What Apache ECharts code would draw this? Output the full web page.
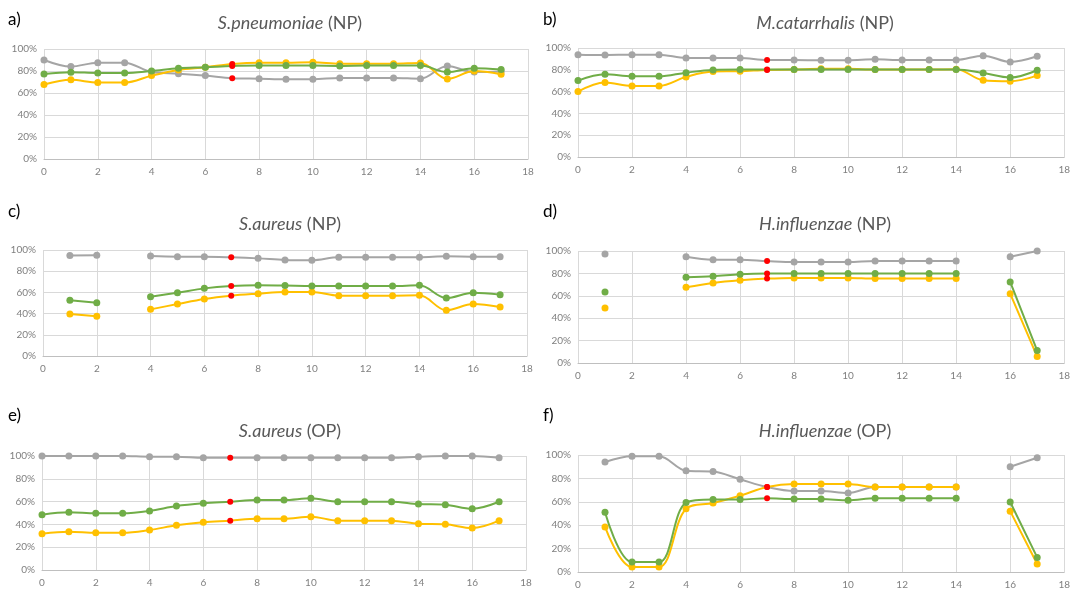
<!DOCTYPE html>
<html><head><meta charset="utf-8">
<script src="https://cdn.jsdelivr.net/npm/echarts@6/dist/echarts.min.js"></script>
<style>html,body{margin:0;padding:0;background:#fff}#c{width:1073px;height:594px}</style>
</head><body><div id="c"></div>
<script>
const xValues = [0,1,2,3,4,5,6,7,8,9,10,11,12,13,14,15,16,17];
const highlightIndex = 7;
const panelLetters = ['a)','b)','c)','d)','e)','f)'];
const speciesNames = ['S.pneumoniae','M.catarrhalis','S.aureus','H.influenzae','S.aureus','H.influenzae'];
const siteNames = ['(NP)','(NP)','(NP)','(NP)','(OP)','(OP)'];
const yTickValues = [0,20,40,60,80,100];

// a) S.pneumoniae (NP)
const aGray   = [90,84,87.6,87.6,79,77.6,75.8,73.4,73,72.5,72.5,73.7,73.7,73.7,73,84.6,79,79.5];
const aGreen  = [77.3,78.9,78.2,78.2,80,82.5,83.4,84.6,84.9,84.9,84.9,84.6,84.9,84.9,84.9,79,82.5,81.3];
const aYellow = [67.7,72,69.5,69.5,75.8,81,83.4,86.4,87.6,87.6,88,86.7,86.7,86.7,87.3,72.8,80,77];
// b) M.catarrhalis (NP)
const bGray   = [93.9,93.6,93.9,93.9,90.9,90.9,90.9,89,89,88.7,88.7,89.6,89,89,89,93,87.2,92.4];
const bGreen  = [70.1,75.9,74,74,77.4,79.9,80.2,80.2,80.2,80.2,80.2,80.2,80.2,80.2,80.2,77.1,72.9,79.6];
const bYellow = [60,68.3,65.2,65.2,73.5,78.4,78.7,79.9,80.2,81,81,80.2,80.2,80.2,80.5,70.4,69.5,74.7];
// c) S.aureus (NP)
const cGray   = [null,94.7,95,null,94.3,93.7,93.7,93.1,92.1,90.6,90.3,93.1,93.1,93.1,93.1,94,93.7,93.7];
const cGreen  = [null,52.5,50.3,null,56,59.7,63.8,66,66.7,66.4,66,66,66,66,66.7,54.7,59.7,57.9];
const cYellow = [null,39.6,37.4,null,44,49,53.8,56.9,58.8,60.4,60.4,56.9,56.9,56.9,57.2,43.1,49,46.2];
// d) H.influenzae (NP)
const dGray   = [null,97.3,null,null,94.9,92.2,92.2,91,90.1,90.1,90.1,91,91,91,91,null,94.9,100];
const dGreen  = [null,63.4,null,null,76.6,77.5,79.3,79.9,79.9,79.9,79.9,79.9,79.9,79.9,79.9,null,72.4,11.1];
const dYellow = [null,49,null,null,67.6,71.5,73.9,75.4,76,76,76,75.4,75.4,75.4,75.4,null,61.9,5.7];
// e) S.aureus (OP)
const eGray   = [100,100,100,100,99.4,99.4,98.5,98.5,98.5,98.5,98.5,98.5,98.5,98.5,99.4,100,100,98.5];
const eGreen  = [48.5,50.6,49.7,49.7,51.8,56.1,58.5,59.9,61.4,61.4,62.9,59.9,59.9,59.9,57.9,57.3,53.8,59.9];
const eYellow = [31.9,33.6,32.7,32.7,35.1,39.2,41.8,43.3,45,45,46.8,43.3,43.3,43.3,40.6,40.1,36.8,43.3];
// f) H.influenzae (OP)
const fGray   = [null,94,98.9,98.9,86.6,85.8,79.2,72.6,69.2,69.2,67.5,72.6,72.6,72.6,72.6,null,90,97.7];
const fGreen  = [null,51,8.5,8.5,59.3,62,62,63,62.4,62.4,61.3,63,63,63,63,null,59.8,12.5];
const fYellow = [null,38.5,4.3,4.3,54,59,65.2,72.6,75.2,75.2,75.2,72.6,72.6,72.6,72.6,null,52,6.8];

const panelData = [
  [aGray,aYellow,aGreen],[bGray,bYellow,bGreen],[cGray,cYellow,cGreen],
  [dGray,dYellow,dGreen],[eGray,eYellow,eGreen],[fGray,fYellow,fGreen]
];
const seriesColors = ['#A5A5A5','#FFC000','#70AD47'];

// layout
const grids = [
  {left:44, top:49, width:484, height:110},
  {left:578, top:48, width:493, height:109},
  {left:43, top:250, width:484, height:106},
  {left:578, top:251, width:492, height:112},
  {left:42, top:456, width:484, height:114},
  {left:578, top:455, width:490, height:117}
];
const letterPos = [[3,6],[538,6],[3,198],[538,198],[3,402],[538,402]];
const titlePos = [[285,9],[820,9],[285,210],[820,210],[285,417],[820,417]];

const FONT = 'Lato, "Liberation Sans", sans-serif';
const option = {
  animation:false,
  backgroundColor:'#fff',
  textStyle:{fontFamily:FONT},
  title:[],
  grid:grids,
  xAxis:[], yAxis:[], series:[]
};
for (let i=0;i<6;i++){
  option.title.push({
    text: panelLetters[i], left: letterPos[i][0], top: letterPos[i][1],
    textStyle:{fontSize:17, fontWeight:'normal', color:'#000', fontFamily:FONT}
  });
  option.title.push({
    text: '{i|'+speciesNames[i]+'} {n|'+siteNames[i]+'}',
    left: titlePos[i][0], top: titlePos[i][1], textAlign:'center',
    textStyle:{fontSize:18, fontWeight:'normal', color:'#595959', fontFamily:FONT,
      rich:{i:{fontStyle:'italic', fontSize:18, color:'#595959', fontFamily:FONT},
            n:{fontSize:18, color:'#595959', fontFamily:FONT}}}
  });
  option.xAxis.push({
    type:'value', gridIndex:i, min:0, max:18, interval:2,
    axisLine:{show:true, lineStyle:{color:'#BFBFBF', width:1}},
    axisTick:{show:false},
    axisLabel:{color:'#808080', fontSize:10, margin:8, fontFamily:FONT},
    splitLine:{show:true, lineStyle:{color:'#D9D9D9', width:1}}
  });
  option.yAxis.push({
    type:'value', gridIndex:i, min:0, max:100, interval:20,
    axisLine:{show:false}, axisTick:{show:false},
    axisLabel:{color:'#808080', fontSize:10, margin:7, fontFamily:FONT, formatter:'{value}%'},
    splitLine:{show:true, lineStyle:{color:'#D9D9D9', width:1}}
  });
  panelData[i].forEach((vals, s) => {
    option.series.push({
      type:'line', xAxisIndex:i, yAxisIndex:i,
      smooth:0.35, connectNulls:false,
      symbol:'circle', symbolSize:7, showSymbol:true,
      lineStyle:{color:seriesColors[s], width:2},
      itemStyle:{color:seriesColors[s]},
      z: 2+s,
      data: xValues.map((x,k) => {
        const v = vals[k];
        if (v === null) return [x,'-'];
        if (k === highlightIndex) return {value:[x,v], itemStyle:{color:'#FF0000'}, symbolSize:6};
        return [x,v];
      })
    });
  });
}
const chart = echarts.init(document.getElementById('c'), null, {renderer:'canvas'});
chart.setOption(option);
</script></body></html>
